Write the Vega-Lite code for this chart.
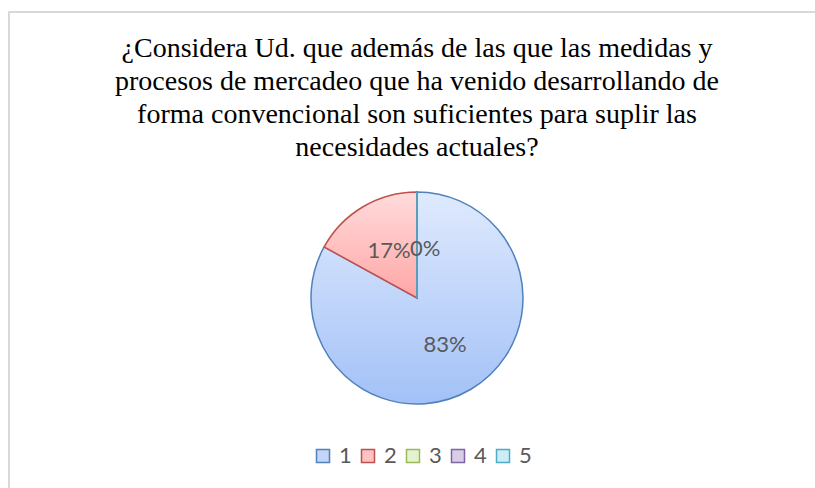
{
  "$schema": "https://vega.github.io/schema/vega-lite/v6.json",
  "width": 812,
  "height": 477,
  "autosize": {"type": "none"},
  "padding": {"left": 9, "right": -6, "top": 12, "bottom": -1},
  "background": "#ffffff",
  "title": {
    "text": [
      "¿Considera Ud. que además de las que las medidas y",
      "procesos de mercadeo que ha venido desarrollando de",
      "forma convencional son suficientes para suplir las",
      "necesidades actuales?"
    ],
    "fontSize": 28,
    "fontWeight": "normal",
    "color": "#000000",
    "lineHeight": 33,
    "anchor": "middle",
    "offset": -151,
    "dx": 2
  },
  "data": {
    "values": [
      {"cat": 1, "share": 0.83},
      {"cat": 2, "share": 0.17},
      {"cat": 3, "share": 0},
      {"cat": 4, "share": 0},
      {"cat": 5, "share": 0}
    ]
  },
  "layer": [
    {
      "mark": {"type": "rect", "fill": null, "stroke": "#d9d9d9", "strokeWidth": 2},
      "encoding": {}
    },
    {
      "mark": {"type": "arc", "outerRadius": 106, "strokeWidth": 1.5, "xOffset": 2, "yOffset": 47.5},
      "encoding": {
        "theta": {"field": "share", "type": "quantitative", "stack": true},
        "order": {"field": "cat", "type": "quantitative"},
        "fill": {
          "field": "cat",
          "type": "nominal",
          "scale": {"domain": [1, 2, 3, 4, 5], "range": ["#c3d6fa", "#ffc2c2", "#e4f2cf", "#d8cee8", "#cdecf6"]},
          "legend": {"title": null, "orient": "none", "legendX": 303, "legendY": 433},
          "condition": [
            {"test": "datum.cat === 1", "value": {"gradient": "linear", "x1": 0, "y1": 0, "x2": 0, "y2": 1, "stops": [{"offset": 0, "color": "#dfeafd"}, {"offset": 1, "color": "#a3c1f7"}]}},
            {"test": "datum.cat === 2", "value": {"gradient": "linear", "x1": 0, "y1": 0, "x2": 0, "y2": 1, "stops": [{"offset": 0, "color": "#ffdcdc"}, {"offset": 1, "color": "#ffa6a6"}]}}
          ]
        },
        "stroke": {
          "field": "cat",
          "type": "nominal",
          "scale": {"domain": [1, 2, 3, 4, 5], "range": ["#4f81bd", "#c0504d", "#9bbb59", "#8064a2", "#4bacc6"]},
          "legend": {"title": null, "orient": "none", "legendX": 303, "legendY": 433}
        }
      }
    },
    {
      "transform": [{"filter": "datum.cat <= 2"}],
      "mark": {"type": "text", "radius": 55, "font": "Lato", "fontSize": 22, "color": "#595959", "xOffset": 2, "yOffset": 47.5},
      "encoding": {
        "theta": {"field": "share", "type": "quantitative", "stack": true},
        "order": {"field": "cat", "type": "quantitative"},
        "text": {"field": "share", "type": "quantitative", "format": ".0%"}
      }
    },
    {
      "transform": [{"filter": "datum.cat === 5"}],
      "mark": {"type": "text", "radius": 55, "font": "Lato", "fontSize": 22, "color": "#595959", "align": "left", "xOffset": -5, "yOffset": 53.5},
      "encoding": {
        "theta": {"value": 0},
        "text": {"field": "share", "type": "quantitative", "format": ".0%"}
      }
    }
  ],
  "config": {
    "view": {"stroke": null},
    "title": {"font": "Liberation Serif"},
    "legend": {
      "direction": "horizontal",
      "symbolType": "square",
      "symbolSize": 169,
      "symbolStrokeWidth": 1.5,
      "labelFont": "Lato",
      "labelFontSize": 22,
      "labelColor": "#595959",
      "labelOffset": 5,
      "columnPadding": 5
    }
  }
}
